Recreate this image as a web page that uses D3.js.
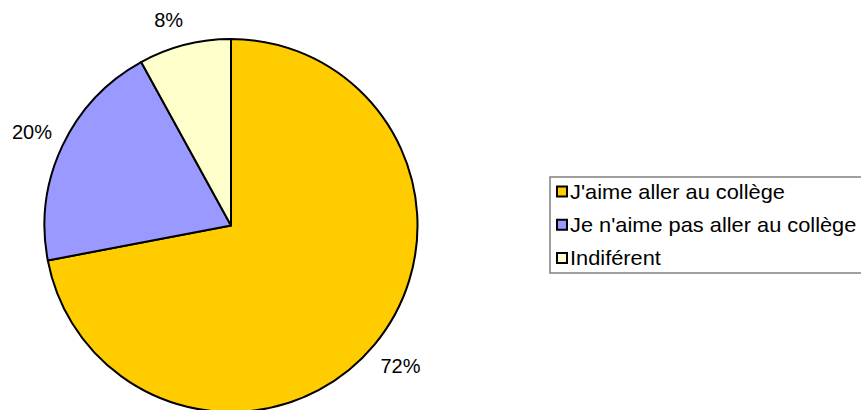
<!DOCTYPE html>
<html>
<head>
<meta charset="utf-8">
<script src="https://cdn.jsdelivr.net/npm/d3@7"></script>
<style>
  html, body { margin: 0; padding: 0; background: #fff; }
  svg { display: block; font-family: "Liberation Sans", Arial, sans-serif; }
</style>
</head>
<body>
<svg id="chart" width="861" height="410"></svg>
<script>
// Survey answers: share of pupils per attitude towards school
const categories = ["J'aime aller au collège", "Je n'aime pas aller au collège", "Indiférent"];
const values = [72, 20, 8];
const labels = ["72%", "20%", "8%"];
const colors = ["#FFCC00", "#9999FF", "#FFFFCC"];

const svg = d3.select("#chart");
const cx = 231, cy = 225.5, radius = 186.5, labelRadius = 220;
const labelTop = 20; // keep percentage labels inside the drawing area

const color = d3.scaleOrdinal().domain(categories).range(colors);

const pie = d3.pie()
  .value(d => d.value)
  .sort(null)
  .startAngle(0)
  .endAngle(2 * Math.PI);

const data = categories.map((c, i) => ({ name: c, value: values[i], label: labels[i] }));
const arcs = pie(data);

const arc = d3.arc().innerRadius(0).outerRadius(radius);
const labelArc = d3.arc().innerRadius(labelRadius).outerRadius(labelRadius);

const g = svg.append("g").attr("transform", `translate(${cx},${cy})`);

g.selectAll("path.slice")
  .data(arcs)
  .join("path")
  .attr("class", "slice")
  .attr("d", arc)
  .attr("fill", d => color(d.data.name))
  .attr("stroke", "#000")
  .attr("stroke-width", 2)
  .attr("stroke-linejoin", "round");

function labelPos(d) {
  let [x, y] = labelArc.centroid(d);
  const minY = labelTop - cy;
  if (y < minY) {
    // slide the label down and away from the neighbouring slice
    const shift = minY - y;
    y = minY;
    x -= shift;
  }
  return [x, y];
}

g.selectAll("text.pct")
  .data(arcs)
  .join("text")
  .attr("class", "pct")
  .attr("transform", d => `translate(${labelPos(d)})`)
  .attr("text-anchor", "middle")
  .attr("dy", "0.35em")
  .attr("font-size", 20)
  .attr("fill", "#000")
  .text(d => d.data.label);

// Legend
const legend = svg.append("g").attr("transform", "translate(550,177)");
legend.append("rect")
  .attr("x", 0).attr("y", 0)
  .attr("width", 330).attr("height", 96)
  .attr("fill", "#fff")
  .attr("stroke", "#808080")
  .attr("stroke-width", 1.5);

const rowY = d3.scalePoint().domain(categories).range([21.5, 88]);

const items = legend.selectAll("g.item")
  .data(categories)
  .join("g")
  .attr("class", "item")
  .attr("transform", d => `translate(0,${rowY(d)})`);

items.append("rect")
  .attr("x", 7).attr("y", -12)
  .attr("width", 10).attr("height", 10)
  .attr("fill", d => color(d))
  .attr("stroke", "#000")
  .attr("stroke-width", 2);

items.append("text")
  .attr("transform", "translate(20,0) scale(1.09,1)")
  .attr("font-size", 20)
  .attr("fill", "#000")
  .text(d => d);
</script>
</body>
</html>
